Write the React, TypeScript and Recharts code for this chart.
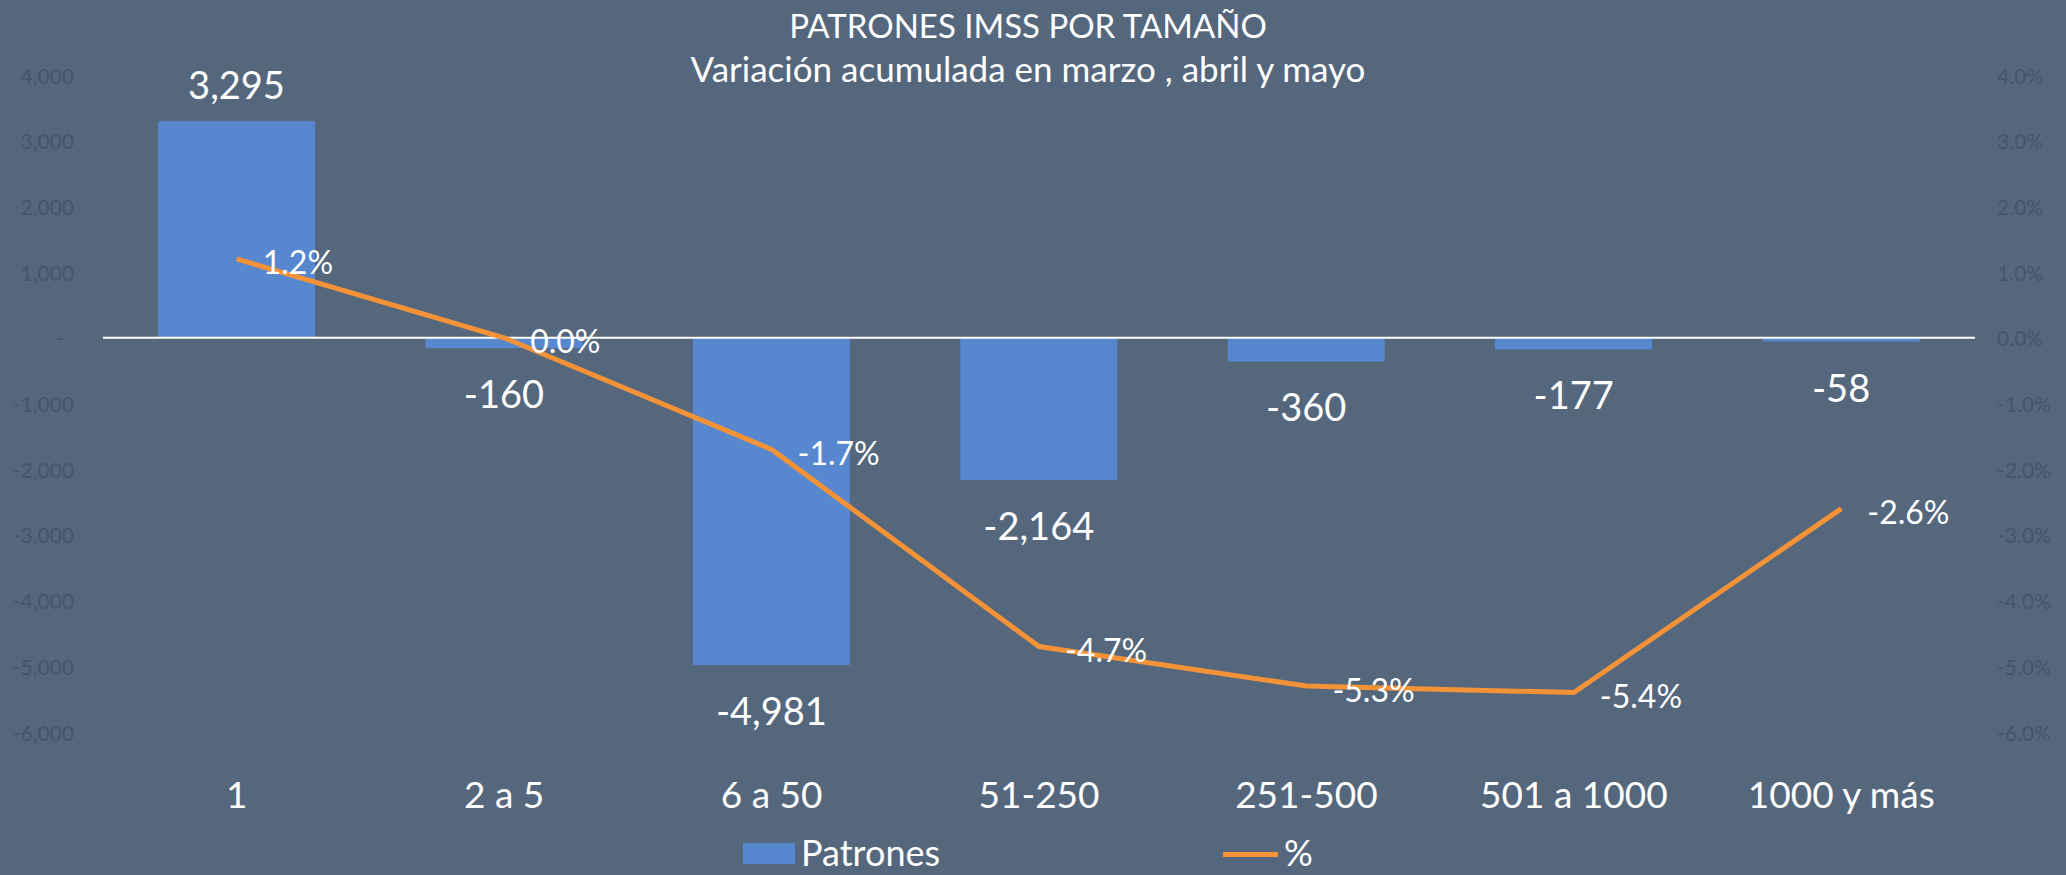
import React from 'react';
import { ComposedChart, Bar, Line, XAxis, YAxis, ReferenceLine, LabelList } from 'recharts';

const categories = ['1', '2 a 5', '6 a 50', '51-250', '251-500', '501 a 1000', '1000 y más'];
const patrones = [3295, -160, -4981, -2164, -360, -177, -58];
const porcentaje = [1.2, 0.0, -1.7, -4.7, -5.3, -5.4, -2.6];
const leftTicks = [-6000, -5000, -4000, -3000, -2000, -1000, 0, 1000, 2000, 3000, 4000];
const rightTicks = [-6, -5, -4, -3, -2, -1, 0, 1, 2, 3, 4];

const data = categories.map((name, i) => ({ name, patrones: patrones[i], pct: porcentaje[i] }));

const BG = '#55677D';
const BAR = '#5687CF';
const ORANGE = '#F39237';
const AXIS_TEXT = '#45556B';
const FONT = 'Lato, "Open Sans", sans-serif';

const fmtNum = (v: number) => v.toLocaleString('en-US');

const LeftTick = ({ x, y, payload }: any) => {
    const v = payload.value;
    return (
        <text x={v === 0 ? x - 11 : x} y={y} textAnchor="end" dominantBaseline="central" fill={AXIS_TEXT} fontSize={21} fontFamily={FONT}>
            {v === 0 ? '-' : fmtNum(v)}
        </text>
    );
};

const RightTick = ({ x, y, payload }: any) => (
    <text x={x} y={y} textAnchor="start" dominantBaseline="central" fill={AXIS_TEXT} fontSize={21} fontFamily={FONT}>
        {`${payload.value.toFixed(1)}%`}
    </text>
);

const CategoryTick = ({ x, payload }: any) => (
    <text x={x} y={793} textAnchor="middle" dominantBaseline="central" fill="#FFFFFF" fontSize={37} fontFamily={FONT}>
        {payload.value}
    </text>
);

const BarLabel = ({ x, y, width, height, value }: any) => {
    const top = Math.min(y, y + height);
    const bottom = Math.max(y, y + height);
    const cy = value >= 0 ? top - 37 : bottom + 45;
    return (
        <text x={x + width / 2} y={cy} textAnchor="middle" dominantBaseline="central" fill="#FFFFFF" fontSize={38} fontFamily={FONT}>
            {fmtNum(value)}
        </text>
    );
};

const LineLabel = ({ x, y, value }: any) => (
    <text x={x + 26} y={y + 3} textAnchor="start" dominantBaseline="central" fill="#FFFFFF" fontSize={32} fontFamily={FONT}>
        {`${value.toFixed(1)}%`}
    </text>
);

const legendText = { position: 'absolute' as const, top: 834, color: '#fff', fontSize: 36, lineHeight: 1 };

export default function App() {
    return (
        <div style={{ position: 'relative', width: 2066, height: 875, background: BG, fontFamily: FONT, overflow: 'hidden' }}>
            <style>{'body{margin:0}'}</style>
            <div style={{ position: 'absolute', top: 5, left: 0, width: 2056, textAlign: 'center', color: '#fff', fontSize: 33, lineHeight: '40px' }}>
                PATRONES IMSS POR TAMAÑO
            </div>
            <div style={{ position: 'absolute', top: 48, left: 0, width: 2056, textAlign: 'center', color: '#fff', fontSize: 35, lineHeight: '40px' }}>
                Variación acumulada en marzo , abril y mayo
            </div>
            <ComposedChart width={2066} height={875} data={data} margin={{ top: 75, right: 0, bottom: 0, left: 0 }}>
                <XAxis dataKey="name" height={143} axisLine={false} tickLine={false} tick={<CategoryTick />} interval={0} />
                <YAxis
                    yAxisId="left"
                    width={103}
                    domain={[-6000, 4000]}
                    ticks={leftTicks}
                    axisLine={false}
                    tickLine={false}
                    tickSize={0}
                    tickMargin={29}
                    tick={<LeftTick />}
                    interval={0}
                />
                <YAxis
                    yAxisId="right"
                    orientation="right"
                    width={91}
                    domain={[-6, 4]}
                    ticks={rightTicks}
                    axisLine={false}
                    tickLine={false}
                    tickSize={0}
                    tickMargin={22}
                    tick={<RightTick />}
                    interval={0}
                />
                <Bar yAxisId="left" dataKey="patrones" fill={BAR} barSize={157} isAnimationActive={false}>
                    <LabelList dataKey="patrones" content={<BarLabel />} />
                </Bar>
                <ReferenceLine yAxisId="left" y={0} stroke="#FFFFFF" strokeWidth={2} />
                <Line
                    yAxisId="right"
                    type="linear"
                    dataKey="pct"
                    stroke={ORANGE}
                    strokeWidth={5}
                    dot={false}
                    activeDot={false}
                    isAnimationActive={false}
                >
                    <LabelList dataKey="pct" content={<LineLabel />} />
                </Line>
            </ComposedChart>
            <div style={{ position: 'absolute', left: 743, top: 843, width: 52, height: 21, background: BAR }} />
            <div style={{ ...legendText, left: 801 }}>Patrones</div>
            <div style={{ position: 'absolute', left: 1223, top: 852, width: 55, height: 5, background: ORANGE }} />
            <div style={{ ...legendText, left: 1284 }}>%</div>
        </div>
    );
}
